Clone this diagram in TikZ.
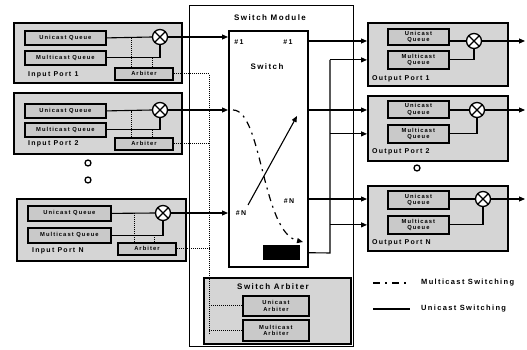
\documentclass[tikz,border=0pt]{standalone}
\usepackage{fontspec}
\setmainfont{Liberation Sans}[LetterSpace=18]
\usetikzlibrary{arrows.meta,calc}
\begin{document}
\begin{tikzpicture}[x=1pt,y=-1pt,
  port/.style={draw,line width=1.6pt,fill=gray!33,anchor=north west,inner sep=0pt},
  qbox/.style={draw,line width=1.8pt,fill=gray!42,anchor=north west,inner sep=0pt,align=center,font=\bfseries\fontsize{5.8}{6.2}\selectfont},
  plabel/.style={anchor=west,inner sep=0pt,font=\bfseries\fontsize{7}{8}\selectfont},
  title/.style={inner sep=0pt,font=\bfseries\fontsize{8}{9}\selectfont},
  small/.style={inner sep=0pt,font=\bfseries\fontsize{7}{8}\selectfont},
  mult/.style={circle,draw,line width=1.3pt,fill=white,minimum size=15pt,inner sep=0pt,
    path picture={\draw[line width=1.3pt] (path picture bounding box.north west)--(path picture bounding box.south east)
      (path picture bounding box.north east)--(path picture bounding box.south west);}},
  conn/.style={line width=1.1pt},
  arr/.style={conn,-{Triangle[length=6pt,width=5pt]}},
  dotl/.style={line width=1pt,dash pattern=on 1pt off 1pt},
  mc/.style={line width=1.2pt,dash pattern=on 7pt off 5pt on 2pt off 5pt},
  dotc/.style={circle,draw,line width=1.3pt,minimum size=6pt,inner sep=0pt}
]
\useasboundingbox (0,0) rectangle (527,350);

% ---------- Switch module ----------
\node[draw,line width=0.8pt,fill=white,anchor=north west,minimum width=164pt,minimum height=341pt] (sm) at (189,5) {};
\node[title] (smt) at (270,18) {Switch Module};
\node[draw,line width=1.6pt,fill=white,anchor=north west,minimum width=79pt,minimum height=236pt] (sw) at (228,30) {};
\node[small] (n1l) at (239,42) {\#1};
\node[small] (n1r) at (288,42) {\#1};
\node[title] (swt) at (267,67) {Switch};
\node[small] (nNl) at (241,213) {\#N};
\node[small] (nNr) at (289,201) {\#N};
\node[fill=black,anchor=north west,minimum width=37pt,minimum height=15pt,inner sep=0pt] (blk) at (263,245) {};

% switch arbiter
\node[port,minimum width=147pt,minimum height=66pt] (sa) at (203,277) {};
\node[title] (sat) at (273,287) {Switch Arbiter};
\node[qbox,minimum width=66pt,minimum height=20pt] (ua) at (242,295) {Unicast\\Arbiter};
\node[qbox,minimum width=66pt,minimum height=21pt] (ma) at (242,319) {Multicast\\Arbiter};

% ---------- Input ports ----------
\node[port,minimum width=168pt,minimum height=60pt] (ip1) at (13,22) {};
\node[qbox,minimum width=81pt,minimum height=14pt] (iu1) at (24,30) {Unicast Queue};
\node[qbox,minimum width=81pt,minimum height=14pt] (im1) at (24,50) {Multicast Queue};
\node[qbox,minimum width=58pt,minimum height=12pt] (ia1) at (114,67) {Arbiter};
\node[mult] (ic1) at (160,37) {};
\node[plabel] (il1) at (28,75) {Input Port 1};

\node[port,minimum width=168pt,minimum height=61pt] (ip2) at (13,92) {};
\node[qbox,minimum width=81pt,minimum height=14pt] (iu2) at (24,103) {Unicast Queue};
\node[qbox,minimum width=81pt,minimum height=14pt] (im2) at (24,122) {Multicast Queue};
\node[qbox,minimum width=58pt,minimum height=12pt] (ia2) at (114,137) {Arbiter};
\node[mult] (ic2) at (160,110) {};
\node[plabel] (il2) at (28,144) {Input Port 2};

\node[dotc] (d1) at (88,163) {};
\node[dotc] (d2) at (88,180) {};

\node[port,minimum width=169pt,minimum height=62pt] (ipN) at (16,198) {};
\node[qbox,minimum width=83pt,minimum height=15pt] (iuN) at (27,205) {Unicast Queue};
\node[qbox,minimum width=83pt,minimum height=15pt] (imN) at (27,227) {Multicast Queue};
\node[qbox,minimum width=58pt,minimum height=12pt] (iaN) at (117,242) {Arbiter};
\node[mult] (icN) at (163,213) {};
\node[plabel] (ilN) at (32,251) {Input Port N};

% ---------- Output ports ----------
\node[port,minimum width=140pt,minimum height=63pt] (op1) at (367,22) {};
\node[qbox,minimum width=61pt,minimum height=16pt] (ou1) at (387,28) {Unicast\\Queue};
\node[qbox,minimum width=61pt,minimum height=18pt] (om1) at (387,50) {Multicast\\Queue};
\node[mult] (oc1) at (474,41) {};
\node[plabel] (ol1) at (372,79) {Output Port 1};

\node[port,minimum width=140pt,minimum height=65pt] (op2) at (367,95) {};
\node[qbox,minimum width=61pt,minimum height=17pt] (ou2) at (387,100) {Unicast\\Queue};
\node[qbox,minimum width=61pt,minimum height=18pt] (om2) at (387,124) {Multicast\\Queue};
\node[mult] (oc2) at (477,110) {};
\node[plabel] (ol2) at (372,152) {Output Port 2};

\node[dotc] (d3) at (417,168) {};

\node[port,minimum width=140pt,minimum height=65pt] (opN) at (367,185) {};
\node[qbox,minimum width=61pt,minimum height=18pt] (ouN) at (387,190) {Unicast\\Queue};
\node[qbox,minimum width=61pt,minimum height=18pt] (omN) at (387,215) {Multicast\\Queue};
\node[mult] (ocN) at (483,199) {};
\node[plabel] (olN) at (372,243) {Output Port N};

\coordinate (oend) at (525,0);
\coordinate (bb) at (209,333);
\coordinate (mb) at (330,253);

% ---------- input port internals ----------
\foreach \p/\fa/\fb in {1/0.29/0.64, 2/0.29/0.64, N/0.29/0.62}{
  \draw[conn] (iu\p.east) -- (ic\p.west);
  \draw[conn] (im\p.east) -| (ic\p.south);
  \coordinate (da\p) at ($(ia\p.north west)!\fa!(ia\p.north east)$);
  \coordinate (db\p) at ($(ia\p.north west)!\fb!(ia\p.north east)$);
  \draw[dotl] (da\p) -- (da\p |- iu\p.east);
  \draw[dotl] (db\p) -- (db\p |- im\p.east);
  \draw[arr] (ic\p.east) -- (ic\p -| sw.west);
}
% arbiter bus
\draw[dotl] (ia1.east) -| (bb);
\draw[dotl] (ia2.east) -- (ia2.east -| bb);
\draw[dotl] (iaN.east) -- (iaN.east -| bb);
\draw[dotl] (ua.west -| bb) -- (ua.west);
\draw[dotl] (ma.west -| bb) -- (ma.west);

% ---------- output port internals ----------
\foreach \p in {1,2,N}{
  \draw[conn] (oc\p.west -| ou\p.east) -- (oc\p.west);
  \draw[conn] (om\p.east) -| (oc\p.south);
  \draw[arr] (oc\p.east) -- (oc\p -| oend);
  \draw[arr] (oc\p -| sw.east) -- (oc\p -| op\p.west);
}
% multicast bus
\draw[conn] (blk -| sw.east) -- (mb) -- (mb |- om1);
\draw[arr] (mb |- om1) -- (om1 -| op1.west);
\draw[arr] (mb |- om2) -- (om2 -| op2.west);
\draw[arr] (mb |- omN) -- (omN -| opN.west);

% ---------- switching paths ----------
\coordinate (ua1) at (248,205);
\coordinate (ua2) at (297,116);
\draw[arr] (ua1) -- (ua2);
\coordinate (ma1) at (233,110);
\coordinate (ma2) at (303,242);
\draw[mc,-{Triangle[length=6pt,width=5pt]}] (ma1) .. controls (262,110) and (262,232) .. (ma2);

% ---------- legend ----------
\coordinate (l1a) at (373,283);
\coordinate (l1b) at (410,283);
\coordinate (l2a) at (373,309);
\coordinate (l2b) at (410,309);
\draw[mc] (l1a) -- (l1b);
\draw[conn] (l2a) -- (l2b);
\node[anchor=west,inner sep=0pt,font=\bfseries\fontsize{7.5}{8}\selectfont] (lt1) at (421,283) {Multicast Switching};
\node[anchor=west,inner sep=0pt,font=\bfseries\fontsize{7.5}{8}\selectfont] (lt2) at (421,309) {Unicast Switching};
\end{tikzpicture}
\end{document}
